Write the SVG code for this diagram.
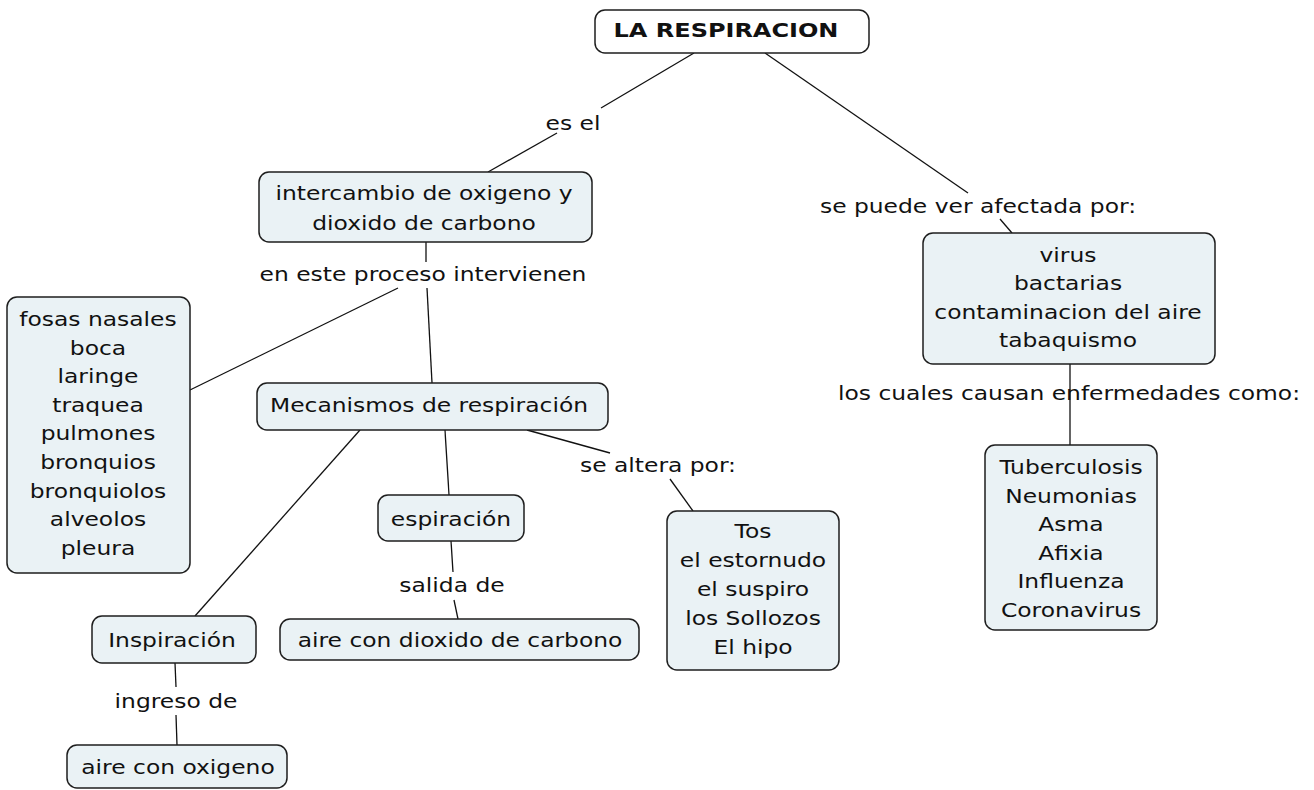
<svg xmlns="http://www.w3.org/2000/svg" width="1314" height="790" viewBox="0 0 1314 790">
<style>
.box{fill:#eaf2f5;stroke:#1e1e1e;stroke-width:1.5}
.root{fill:#ffffff;stroke:#1e1e1e;stroke-width:1.5}
.t{font-family:"DejaVu Sans","Verdana",sans-serif;font-size:20px;fill:#111;text-anchor:middle}
.b{font-weight:bold;}
.c line{stroke:#111;stroke-width:1.3}
</style>
<rect width="1314" height="790" fill="#ffffff"/>
<g id="connectors" class="c">
<line x1="694" y1="53" x2="601" y2="108"/>
<line x1="557" y1="133" x2="488" y2="172"/>
<line x1="765" y1="53" x2="968" y2="193"/>
<line x1="1000" y1="219" x2="1012" y2="233"/>
<line x1="426" y1="242" x2="426" y2="262"/>
<line x1="398" y1="288" x2="190" y2="390"/>
<line x1="427" y1="288" x2="432" y2="383"/>
<line x1="360" y1="430" x2="195" y2="616"/>
<line x1="445" y1="430" x2="449" y2="495"/>
<line x1="451" y1="541" x2="453" y2="572"/>
<line x1="454" y1="600" x2="458" y2="619"/>
<line x1="527" y1="430" x2="610" y2="453"/>
<line x1="670" y1="479" x2="693" y2="511"/>
<line x1="175" y1="663" x2="176" y2="687"/>
<line x1="176" y1="715" x2="177" y2="745"/>
<line x1="1070" y1="364" x2="1070" y2="445"/>
</g>
<g id="n-root">
<rect class="root" x="595" y="10" width="274" height="43" rx="10"/>
<text class="t b" transform="translate(726,0) scale(1.2,1)"><tspan x="0" y="37">LA RESPIRACION</tspan></text>
</g>
<g id="l-esel"><text class="t" transform="translate(573,0) scale(1.17,1)"><tspan x="0" y="130">es el</tspan></text></g>
<g id="n-intercambio">
<rect class="box" x="259" y="172" width="333" height="70" rx="10"/>
<text class="t" transform="translate(424,0) scale(1.17,1)"><tspan x="0" y="200">intercambio de oxigeno y</tspan><tspan x="0" y="230">dioxido de carbono</tspan></text>
</g>
<g id="l-proceso"><text class="t" transform="translate(423,0) scale(1.17,1)"><tspan x="0" y="281">en este proceso intervienen</tspan></text></g>
<g id="n-fosas">
<rect class="box" x="7" y="297" width="183" height="276" rx="10"/>
<text class="t" transform="translate(98,0) scale(1.17,1)"><tspan x="0" y="326">fosas nasales</tspan><tspan x="0" y="354.6">boca</tspan><tspan x="0" y="383.2">laringe</tspan><tspan x="0" y="411.8">traquea</tspan><tspan x="0" y="440.4">pulmones</tspan><tspan x="0" y="469">bronquios</tspan><tspan x="0" y="497.6">bronquiolos</tspan><tspan x="0" y="526.2">alveolos</tspan><tspan x="0" y="554.8">pleura</tspan></text>
</g>
<g id="n-mecanismos">
<rect class="box" x="257" y="383" width="351" height="47" rx="10"/>
<text class="t" transform="translate(429,0) scale(1.17,1)"><tspan x="0" y="412">Mecanismos de respiración</tspan></text>
</g>
<g id="n-espiracion">
<rect class="box" x="378" y="495" width="146" height="46" rx="10"/>
<text class="t" transform="translate(451,0) scale(1.17,1)"><tspan x="0" y="526">espiración</tspan></text>
</g>
<g id="l-salida"><text class="t" transform="translate(452,0) scale(1.17,1)"><tspan x="0" y="592">salida de</tspan></text></g>
<g id="n-dioxido">
<rect class="box" x="280" y="619" width="359" height="41" rx="10"/>
<text class="t" transform="translate(460,0) scale(1.17,1)"><tspan x="0" y="647">aire con dioxido de carbono</tspan></text>
</g>
<g id="l-altera"><text class="t" transform="translate(658,0) scale(1.17,1)"><tspan x="0" y="472">se altera por:</tspan></text></g>
<g id="n-tos">
<rect class="box" x="667" y="511" width="172" height="159" rx="10"/>
<text class="t" transform="translate(753,0) scale(1.17,1)"><tspan x="0" y="538">Tos</tspan><tspan x="0" y="567">el estornudo</tspan><tspan x="0" y="596">el suspiro</tspan><tspan x="0" y="625">los Sollozos</tspan><tspan x="0" y="654">El hipo</tspan></text>
</g>
<g id="n-inspiracion">
<rect class="box" x="92" y="616" width="164" height="47" rx="10"/>
<text class="t" transform="translate(172,0) scale(1.17,1)"><tspan x="0" y="647">Inspiración</tspan></text>
</g>
<g id="l-ingreso"><text class="t" transform="translate(176,0) scale(1.17,1)"><tspan x="0" y="708">ingreso de</tspan></text></g>
<g id="n-oxigeno">
<rect class="box" x="67" y="745" width="220" height="43" rx="10"/>
<text class="t" transform="translate(178,0) scale(1.17,1)"><tspan x="0" y="774">aire con oxigeno</tspan></text>
</g>
<g id="l-afectada"><text class="t" transform="translate(978,0) scale(1.17,1)"><tspan x="0" y="213">se puede ver afectada por:</tspan></text></g>
<g id="n-virus">
<rect class="box" x="923" y="233" width="292" height="131" rx="10"/>
<text class="t" transform="translate(1068,0) scale(1.17,1)"><tspan x="0" y="262">virus</tspan><tspan x="0" y="290.5">bactarias</tspan><tspan x="0" y="319">contaminacion del aire</tspan><tspan x="0" y="347.5">tabaquismo</tspan></text>
</g>
<g id="l-causan"><text class="t" transform="translate(1069,0) scale(1.17,1)"><tspan x="0" y="400">los cuales causan enfermedades como:</tspan></text></g>
<g id="n-enfermedades">
<rect class="box" x="985" y="445" width="172" height="185" rx="10"/>
<text class="t" transform="translate(1071,0) scale(1.17,1)"><tspan x="0" y="474">Tuberculosis</tspan><tspan x="0" y="502.6">Neumonias</tspan><tspan x="0" y="531.2">Asma</tspan><tspan x="0" y="559.8">Afixia</tspan><tspan x="0" y="588.4">Influenza</tspan><tspan x="0" y="617">Coronavirus</tspan></text>
</g>
</svg>
